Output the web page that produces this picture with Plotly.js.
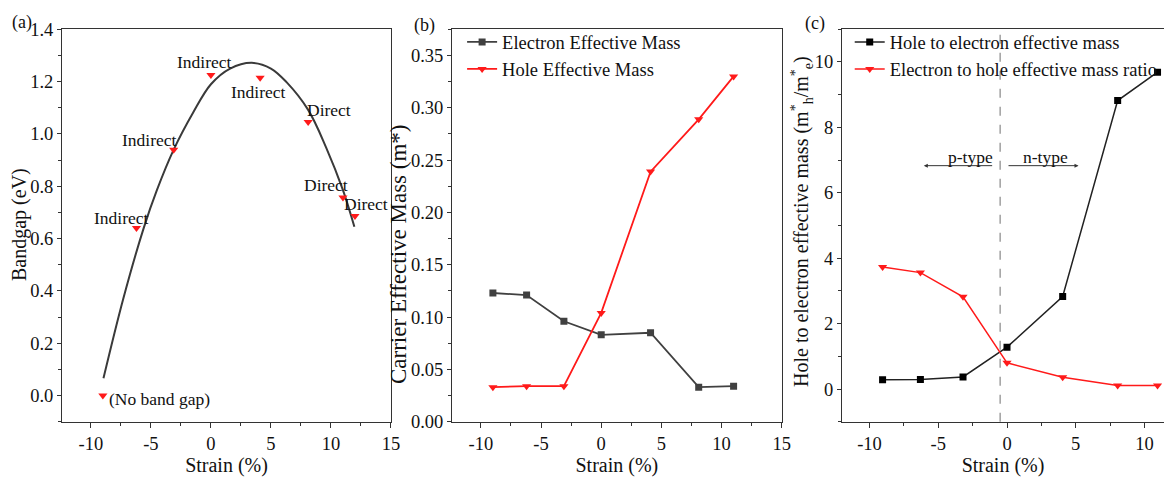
<!DOCTYPE html>
<html>
<head>
<meta charset="utf-8">
<script src="https://cdn.plot.ly/plotly-3.0.1.min.js"></script>
<style>html,body{margin:0;padding:0;background:#fff;}#chart{width:1164px;height:477px;}</style>
</head>
<body>
<div id="chart"></div>
<script>
// ---- Data ----
// Panel (a): band gap vs strain
const strainA = [-9, -6.2, -3.1, 0, 4.1, 8.1, 11, 12];
const bandgap = [0, 0.64, 0.94, 1.225, 1.215, 1.046, 0.757, 0.686];
const gapType = ["(No band gap)", "Indirect", "Indirect", "Indirect", "Indirect", "Direct", "Direct", "Direct"];
// fitted curve
const fitX = [-8.95, -7.3, -5.6, -4.5, -3.1, -1.5, 0, 1.6, 3.4, 5.0, 6.3, 8.1, 9.6, 11.0, 11.95];
const fitY = [0.066, 0.37, 0.64, 0.785, 0.94, 1.08, 1.19, 1.25, 1.272, 1.25, 1.198, 1.092, 0.948, 0.785, 0.645];
// label positions of the gap-type texts (data coordinates)
const labelX = [-4.3, -7.45, -5.1, -0.55, 4.0, 9.85, 9.6, 12.9];
const labelY = [-0.014, 0.677, 0.976, 1.275, 1.16, 1.093, 0.804, 0.734];

// Panel (b): effective masses
const strainB = [-9, -6.2, -3.1, 0, 4.1, 8.1, 11];
const electronMass = [0.123, 0.121, 0.096, 0.083, 0.085, 0.033, 0.034];
const holeMass = [0.033, 0.034, 0.034, 0.104, 0.239, 0.289, 0.330];

// Panel (c): mass ratios
const strainC = [-9.05, -6.3, -3.2, 0, 4.05, 8.05, 10.95];
const holeToElectron = [0.28, 0.29, 0.37, 1.28, 2.83, 8.82, 9.69];
const electronToHole = [3.73, 3.56, 2.82, 0.80, 0.36, 0.11, 0.11];

const xTickVals = [-10, -5, 0, 5, 10, 15];
const xTickText = ["-10", "-5", "0", "5", "10", "15"];

// ---- Styling ----
const FONT = '"Liberation Serif", "Times New Roman", serif';
const RED = "#ff1a1a";
const DARK = "#3a3a3a";
const yDom = [0.1159, 0.9386];

function xAxis(domain, range, anchor) {
  return {
    domain: domain, range: range, anchor: anchor,
    tickmode: "array", tickvals: xTickVals, ticktext: xTickText,
    ticks: "outside", ticklen: 5, tickcolor: "#333", tickwidth: 1,
    minor: {ticks: "outside", ticklen: 3, dtick: 2.5, tick0: 0, tickcolor: "#333"},
    showline: true, linecolor: "#333", linewidth: 1, mirror: true,
    showgrid: false, zeroline: false,
    tickfont: {family: FONT, size: 18.5, color: "#111"},
    title: {text: "Strain (%)", font: {family: FONT, size: 20, color: "#111"}, standoff: 16},
    automargin: false
  };
}
function yAxis(range, dtick, minorDtick, fmt, anchor) {
  return {
    domain: yDom, range: range, anchor: anchor,
    dtick: dtick, tick0: 0, tickformat: fmt,
    ticks: "outside", ticklen: 4, tickcolor: "#333", tickwidth: 1,
    minor: {ticks: "outside", ticklen: 3, dtick: minorDtick, tick0: 0, tickcolor: "#333"},
    showline: true, linecolor: "#333", linewidth: 1, mirror: true,
    showgrid: false, zeroline: false,
    tickfont: {family: FONT, size: 18.5, color: "#111"},
    automargin: false
  };
}

const traces = [
  {x: fitX, y: fitY, xaxis: "x", yaxis: "y", mode: "lines", line: {color: DARK, width: 2, shape: "spline", smoothing: 1}, showlegend: false, hoverinfo: "skip"},
  {x: strainA, y: bandgap, xaxis: "x", yaxis: "y", mode: "markers", marker: {symbol: "triangle-down", size: 8, color: RED}, showlegend: false},
  {x: strainB, y: electronMass, xaxis: "x2", yaxis: "y2", mode: "lines+markers", name: "Electron Effective Mass",
   line: {color: "#404040", width: 1.8}, marker: {symbol: "square", size: 7, color: "#404040"}, legend: "legend"},
  {x: strainB, y: holeMass, xaxis: "x2", yaxis: "y2", mode: "lines+markers", name: "Hole Effective Mass",
   line: {color: RED, width: 1.8}, marker: {symbol: "triangle-down", size: 8, color: RED}, legend: "legend"},
  {x: strainC, y: holeToElectron, xaxis: "x3", yaxis: "y3", mode: "lines+markers", name: "Hole to electron effective mass",
   line: {color: "#222", width: 1.5}, marker: {symbol: "square", size: 7, color: "#000"}, legend: "legend2"},
  {x: strainC, y: electronToHole, xaxis: "x3", yaxis: "y3", mode: "lines+markers", name: "Electron to hole effective mass ratio",
   line: {color: RED, width: 1.5}, marker: {symbol: "triangle-down", size: 8, color: RED}, legend: "legend2"}
];

const annotations = [];
for (let i = 0; i < gapType.length; i++) {
  annotations.push({x: labelX[i], y: labelY[i], xref: "x", yref: "y", text: gapType[i], showarrow: false,
    xanchor: "center", yanchor: "middle", font: {family: FONT, size: 17.5, color: "#111"}});
}
// panel labels
[["(a)", 22, 23], ["(b)", 424, 25], ["(c)", 815, 24]].forEach(p => {
  annotations.push({x: p[1] / 1164, y: 1 - p[2] / 477, xref: "paper", yref: "paper", text: p[0], showarrow: false,
    xanchor: "center", yanchor: "middle", font: {family: FONT, size: 18, color: "#111"}});
});
// y-axis titles
[["Bandgap (eV)", 19, 225, 20], ["Carrier Effective Mass (m*)", 399, 254, 23],
 ["Hole to electron effective mass (m<sup>*</sup><sub>h</sub>/m<sup>*</sup><sub>e</sub>)", 802, 222, 20]].forEach(p => {
  annotations.push({x: p[1] / 1164, y: 1 - p[2] / 477, xref: "paper", yref: "paper", text: p[0], showarrow: false,
    textangle: -90, xanchor: "center", yanchor: "middle", font: {family: FONT, size: p[3], color: "#111"}});
});
// p-type / n-type arrows and labels
annotations.push({x: -6.05, y: 6.83, ax: -0.97, ay: 6.83, xref: "x3", yref: "y3", axref: "x3", ayref: "y3",
  text: "", showarrow: true, arrowhead: 2, arrowsize: 0.8, arrowwidth: 1, arrowcolor: "#333"});
annotations.push({x: 5.2, y: 6.83, ax: 0.0, ay: 6.83, xref: "x3", yref: "y3", axref: "x3", ayref: "y3",
  text: "", showarrow: true, arrowhead: 2, arrowsize: 0.8, arrowwidth: 1, arrowcolor: "#333"});
annotations.push({x: -2.66, y: 7.1, xref: "x3", yref: "y3", text: "p-type", showarrow: false,
  xanchor: "center", yanchor: "middle", font: {family: FONT, size: 17.5, color: "#111"}});
annotations.push({x: 2.78, y: 7.1, xref: "x3", yref: "y3", text: "n-type", showarrow: false,
  xanchor: "center", yanchor: "middle", font: {family: FONT, size: 17.5, color: "#111"}});

const layout = {
  width: 1164, height: 477,
  margin: {l: 0, r: 0, t: 0, b: 0, autoexpand: false},
  paper_bgcolor: "#fff", plot_bgcolor: "#fff",
  font: {family: FONT, color: "#111"},
  xaxis: xAxis([0.0533, 0.3359], [-12.4, 15], "y"),
  yaxis: yAxis([-0.1, 1.4], 0.2, 0.1, ".1f", "x"),
  xaxis2: xAxis([0.3883, 0.6716], [-12.4, 15], "y2"),
  yaxis2: yAxis([0, 0.375], 0.05, 0.025, ".2f", "x2"),
  xaxis3: xAxis([0.7234, 1.0], [-12, 11.42], "y3"),
  yaxis3: yAxis([-1, 11], 2, 1, "d", "x3"),
  legend: {x: 0.397, y: 0.951, xanchor: "left", yanchor: "top", bgcolor: "rgba(0,0,0,0)", borderwidth: 0,
    font: {family: FONT, size: 18.5, color: "#111"}, tracegroupgap: 0},
  legend2: {x: 0.730, y: 0.951, xanchor: "left", yanchor: "top", bgcolor: "rgba(0,0,0,0)", borderwidth: 0,
    font: {family: FONT, size: 18.5, color: "#111"}, tracegroupgap: 0},
  shapes: [
    {type: "line", xref: "x3", yref: "y3 domain", x0: -0.5, x1: -0.5, y0: 0, y1: 1,
     line: {color: "#888", width: 1.2, dash: "dash"}}
  ],
  annotations: annotations,
  showlegend: true
};

Plotly.newPlot("chart", traces, layout, {staticPlot: true, displayModeBar: false});
</script>
</body>
</html>
